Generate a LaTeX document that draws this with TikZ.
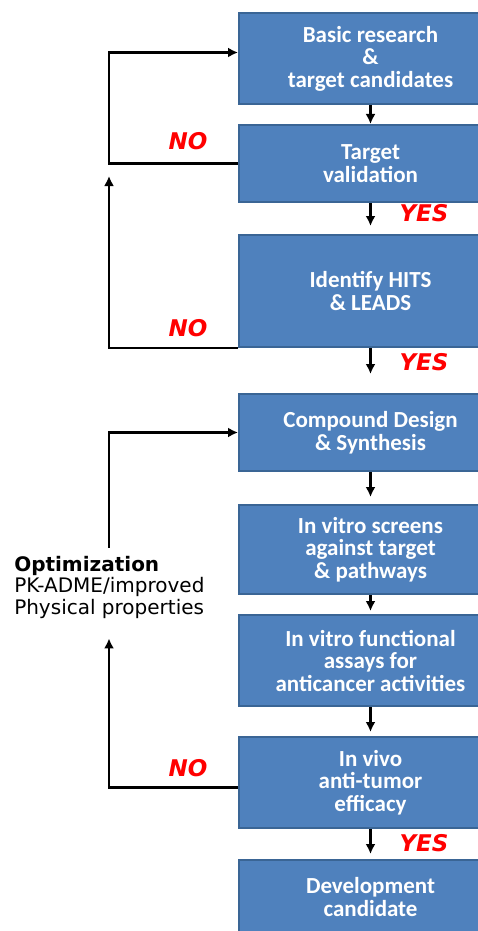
\documentclass[tikz,border=0pt]{standalone}
\usepackage{fontspec}
\setmainfont{Carlito}
\newfontfamily\labelfont{DejaVu Sans}
\usetikzlibrary{arrows.meta}
\definecolor{boxfill}{HTML}{4F81BD}
\definecolor{boxline}{HTML}{3A6595}

\begin{document}
\begin{tikzpicture}[x=1pt, y=-1pt, >={Latex[length=10pt,width=10pt]}, line width=2.5pt,
    stage/.style={rectangle, draw=boxline, fill=boxfill, line width=2pt, text=white,
      minimum width=263pt, inner sep=0pt, align=center,
      font=\fontsize{23}{22.5}\selectfont\bfseries},
    answer/.style={text=red, font=\labelfont\fontsize{23}{23}\selectfont\bfseries\itshape}]
  \useasboundingbox (0,0) rectangle (478,931);
  \clip (0,0) rectangle (478,931);

  % main column
  \node[stage, minimum height=91pt](basic) at (370.5,58.5) {Basic research\\\&\\target candidates};
  \node[stage, minimum height=77pt](valid) at (370.5,163.5) {Target\\validation};
  \node[stage, minimum height=112pt](hits) at (370.5,291) {Identify HITS\\\& LEADS};
  \node[stage, minimum height=77pt](design) at (370.5,432.5) {Compound Design\\\& Synthesis};
  \node[stage, minimum height=89pt](screen) at (370.5,549.5) {In vitro screens\\against target\\\& pathways};
  \node[stage, minimum height=91pt](assay) at (370.5,660.5) {In vitro functional\\assays for\\anticancer activities};
  \node[stage, minimum height=91pt](vivo) at (370.5,782.5) {In vivo\\anti-tumor\\efficacy};
  \node[stage, minimum height=74pt](cand) at (370.5,897) {Development\\candidate};

  \draw[->] (basic) -- (valid);
  \draw[->, shorten >=8pt] (valid) -- (hits);
  \draw[->, shorten >=19pt] (hits) -- (design);
  \draw[->, shorten >=7pt] (design) -- (screen);
  \draw[->, shorten >=3pt] (screen) -- (assay);
  \draw[->, shorten >=4pt] (assay) -- (vivo);
  \draw[->, shorten >=5pt] (vivo) -- (cand);

  % feedback loops
  \coordinate (loopx) at (109,0);
  \coordinate (loopend) at (109,176);
  \node[align=left, anchor=west, inner xsep=0pt, inner ysep=7pt,
    font=\labelfont\fontsize{20}{21.5}\selectfont](opt) at (13,587)
    {{\bfseries Optimization}\\PK-ADME/improved\\Physical properties};

  \draw[->] (valid.west) -- (valid.west -| loopx) |- ([yshift=6pt]basic.west);
  \draw[->] (hits.south west) -| (loopend);
  \draw[->, shorten >=12pt] ([yshift=-5pt]vivo.west) -| (opt.south -| loopx);
  \draw[->] (opt.north -| loopx) |- (design.west);

  % answers
  \node[answer](no1) at (188,141) {NO};
  \node[answer](yes1) at (424,213) {YES};
  \node[answer](no2) at (188,328) {NO};
  \node[answer](yes2) at (424,362) {YES};
  \node[answer](no3) at (188,768) {NO};
  \node[answer](yes3) at (424,843) {YES};
\end{tikzpicture}
\end{document}
